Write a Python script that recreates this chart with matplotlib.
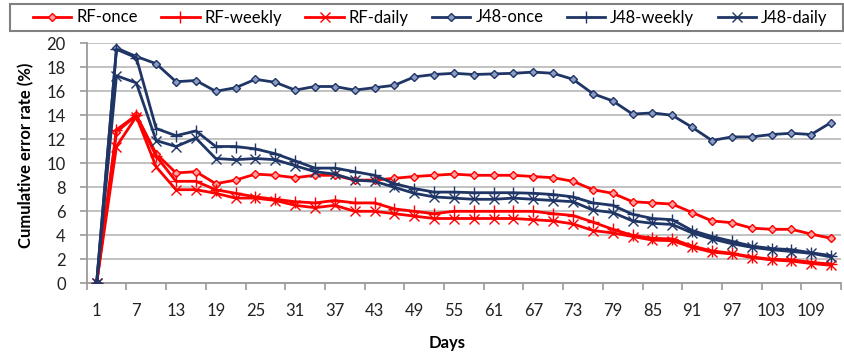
import matplotlib
matplotlib.use("Agg")
import matplotlib.pyplot as plt
from matplotlib.patches import Rectangle

plt.rcParams['font.family'] = ['Lato', 'DejaVu Sans']

days = [1, 4, 7, 10, 13, 16, 19, 22, 25, 28, 31, 34, 37, 40, 43, 46, 49, 52, 55,
        58, 61, 64, 67, 70, 73, 76, 79, 82, 85, 88, 91, 94, 97, 100, 103, 106, 109, 112]
tick_labels = [1, 7, 13, 19, 25, 31, 37, 43, 49, 55, 61, 67, 73, 79, 85, 91, 97, 103, 109]

rf_once = [0, 12.6, 14.0, 10.8, 9.2, 9.3, 8.3, 8.6, 9.1, 9.0,
           8.8, 9.0, 9.0, 8.6, 8.6, 8.75, 8.9, 9.0, 9.1, 9.0,
           9.0, 9.0, 8.9, 8.8, 8.5, 7.8, 7.5, 6.8, 6.7, 6.6,
           5.9, 5.2, 5.05, 4.6, 4.5, 4.5, 4.1, 3.75]
rf_weekly = [0, 12.8, 14.0, 10.6, 8.5, 8.5, 7.8, 7.5, 7.2, 7.0,
             6.8, 6.7, 6.9, 6.7, 6.7, 6.2, 6.0, 5.8, 6.0, 6.0,
             6.0, 6.0, 6.0, 5.8, 5.65, 5.1, 4.5, 4.0, 3.75, 3.7,
             3.1, 2.7, 2.5, 2.2, 2.0, 1.95, 1.75, 1.6]
rf_daily = [0, 11.4, 13.9, 9.7, 7.8, 7.8, 7.5, 7.1, 7.1, 6.9,
            6.5, 6.3, 6.5, 6.0, 6.0, 5.8, 5.6, 5.4, 5.4, 5.4,
            5.4, 5.4, 5.3, 5.2, 4.95, 4.4, 4.2, 3.9, 3.6, 3.55,
            3.0, 2.6, 2.45, 2.15, 1.95, 1.85, 1.65, 1.5]
j48_once = [0, 19.6, 18.9, 18.3, 16.8, 16.9, 16.0, 16.3, 17.0, 16.75,
            16.1, 16.4, 16.4, 16.1, 16.3, 16.5, 17.2, 17.4, 17.5, 17.4,
            17.45, 17.5, 17.6, 17.5, 17.0, 15.8, 15.2, 14.1, 14.2, 14.0,
            13.0, 11.9, 12.2, 12.2, 12.4, 12.5, 12.4, 13.4]
j48_weekly = [0, 19.5, 18.8, 12.9, 12.3, 12.7, 11.4, 11.4, 11.2, 10.8,
              10.2, 9.6, 9.6, 9.3, 9.0, 8.3, 7.9, 7.6, 7.6, 7.55,
              7.55, 7.55, 7.5, 7.4, 7.2, 6.7, 6.5, 5.75, 5.4, 5.3,
              4.4, 3.9, 3.5, 3.1, 2.9, 2.8, 2.55, 2.3]
j48_daily = [0, 17.3, 16.7, 11.9, 11.4, 12.1, 10.4, 10.3, 10.4, 10.3,
             9.8, 9.3, 9.1, 8.6, 8.5, 8.0, 7.5, 7.2, 7.1, 7.0,
             7.0, 7.1, 7.0, 6.9, 6.8, 6.1, 5.9, 5.2, 5.0, 4.9,
             4.2, 3.7, 3.3, 3.0, 2.8, 2.65, 2.5, 2.2]

RED = '#FF0000'
NAVY = '#1F3566'

fig = plt.figure(figsize=(8.44, 3.58), dpi=100)
W, H = 844, 358
x0, x1, ytop, ybot = 86.7, 841.0, 43.3, 283.3
ax = fig.add_axes([x0 / W, 1 - ybot / H, (x1 - x0) / W, (ybot - ytop) / H])

series = [
    ('RF-once', rf_once, RED, 'D', 4.5, '#FFA0A0'),
    ('RF-weekly', rf_weekly, RED, '+', 9, RED),
    ('RF-daily', rf_daily, RED, 'x', 6.5, RED),
    ('J48-once', j48_once, NAVY, 'D', 4.5, '#8C9CC4'),
    ('J48-weekly', j48_weekly, NAVY, '+', 9, NAVY),
    ('J48-daily', j48_daily, NAVY, 'x', 6.5, NAVY),
]
for name, vals, col, mk, ms, mfc in series:
    ax.plot(days, vals, color=col, lw=2.0, marker=mk, ms=ms, mfc=mfc,
            mec=col, mew=1.0, label=name, zorder=3)

ax.set_xlim(-0.5, 113.5)
ax.set_ylim(0, 20)
ax.set_yticks(range(0, 21, 2))
ax.yaxis.grid(True, color='#BDBDBD', lw=1.3)
ax.set_axisbelow(True)

# category boundaries as tick marks, labels at category centres
ax.set_xticks([d - 1.5 for d in tick_labels] + [113.5])
ax.set_xticklabels([])
ax.set_xticks(tick_labels, minor=True)
ax.set_xticklabels([str(t) for t in tick_labels], minor=True)
ax.tick_params(axis='x', which='minor', length=0, pad=14, labelsize=12, colors='#222222')
ax.tick_params(axis='x', which='major', length=5, width=1.2, color='#9A9A9A')
ax.tick_params(axis='y', length=5, width=1.2, color='#9A9A9A', pad=10,
               labelsize=12, labelcolor='#222222')

for s in ['top', 'right']:
    ax.spines[s].set_visible(False)
for s in ['left', 'bottom']:
    ax.spines[s].set_color('#9A9A9A')
    ax.spines[s].set_linewidth(1.3)

ax.set_xlabel('Days', fontsize=12, fontweight='bold')
ax.xaxis.set_label_coords((447 - x0) / (x1 - x0), (ybot - 343) / (ybot - ytop))
ax.xaxis.label.set_va('center')
ax.set_ylabel('Cumulative error rate (%)', fontsize=12, fontweight='bold')
ax.yaxis.set_label_coords((26 - x0) / (x1 - x0), (ybot - 155) / (ybot - ytop))
ax.yaxis.label.set_va('center')

fig.legend(loc='center left', bbox_to_anchor=(33 / W, 1 - 17.5 / H), ncol=6,
           frameon=False, fontsize=12, handlelength=2.3, handletextpad=0.3,
           columnspacing=1.4, borderpad=0, borderaxespad=0)
fig.patches.append(Rectangle((10 / W, 1 - 31 / H), 833 / W, 27 / H,
                             transform=fig.transFigure, fill=False,
                             edgecolor='#808080', lw=1.5))

fig.savefig('out.png', dpi=100)
